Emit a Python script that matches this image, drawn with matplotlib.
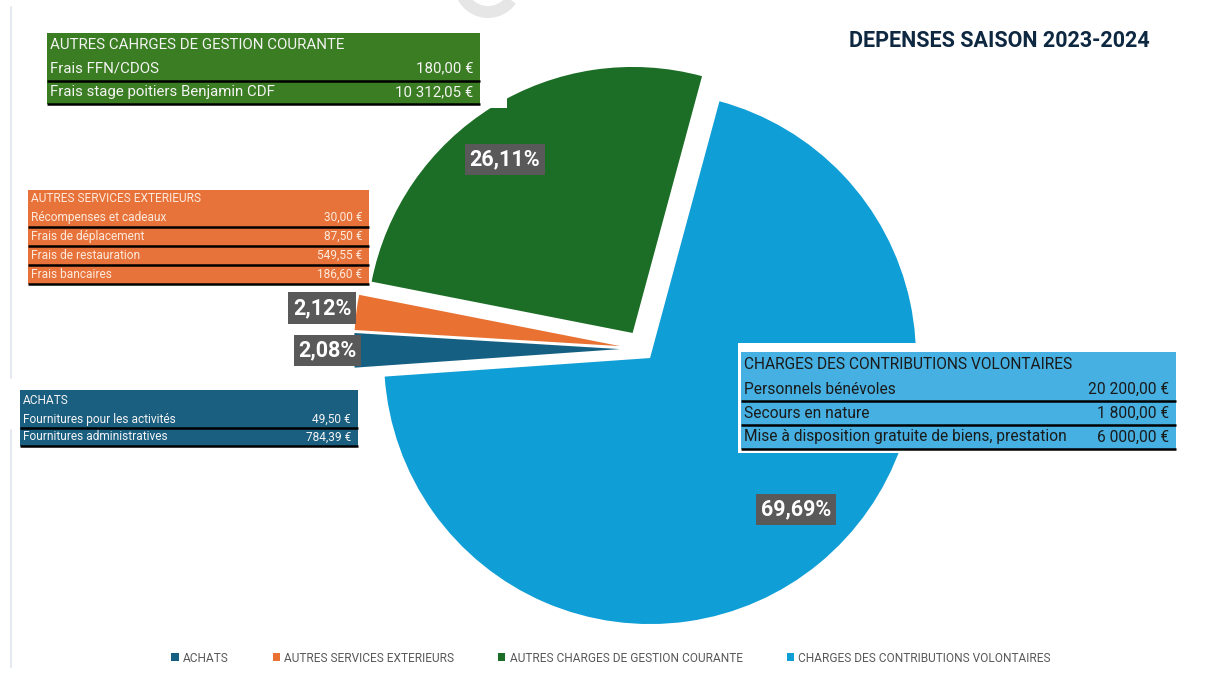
import numpy as np
import matplotlib
matplotlib.use("Agg")
from matplotlib import pyplot as plt, patches as pth

W, H = 1208, 674

categories = ["ACHATS", "AUTRES SERVICES EXTERIEURS",
              "AUTRES CHARGES DE GESTION COURANTE",
              "CHARGES DES CONTRIBUTIONS VOLONTAIRES"]

achats_items = ["Fournitures pour les activités", "Fournitures administratives"]
achats_values = [49.50, 784.39]

services_items = ["Récompenses et cadeaux", "Frais de déplacement",
                  "Frais de restauration", "Frais bancaires"]
services_values = [30.00, 87.50, 549.55, 186.60]

gestion_items = ["Frais FFN/CDOS", "Frais stage poitiers Benjamin CDF"]
gestion_values = [180.00, 10312.05]

contrib_items = ["Personnels bénévoles", "Secours en nature",
                 "Mise à disposition gratuite de biens, prestation"]
contrib_values = [20200.00, 1800.00, 6000.00]

totals = [sum(achats_values), sum(services_values),
          sum(gestion_values), sum(contrib_values)]

pie_colors = ["#156082", "#e97132", "#1c6e26", "#0f9ed5"]
FONT = ["Roboto", "DejaVu Sans"]
R = 266
explode_frac = [0.085, 0.085, 0.071, 0.044]


def euro(v):
    return f"{v:,.2f}".replace(",", " ").replace(".", ",") + " €"


def draw_table(ax, header, items, values, x0, x1, top, head_h, row_h,
               face, fg, size, margin=None):
    # coordinates are given like on the picture (y going down)
    bottom = top + head_h + len(items) * row_h
    if margin is not None:
        l, t, r, b = margin
        ax.add_patch(pth.Rectangle((x0 - l, H - bottom - b), x1 - x0 + l + r,
                                   bottom - top + t + b, facecolor="white",
                                   edgecolor="none", zorder=4))
    ax.add_patch(pth.Rectangle((x0, H - bottom), x1 - x0, bottom - top,
                               facecolor=face, edgecolor="none", zorder=5))
    ax.text(x0 + 3, H - (top + head_h / 2), header, color=fg, fontsize=size,
            family=FONT, va="center", ha="left", zorder=7)
    for i, (name, val) in enumerate(zip(items, values)):
        yc = top + head_h + (i + 0.5) * row_h
        ax.text(x0 + 3, H - yc, name, color=fg, fontsize=size, family=FONT,
                va="center", ha="left", zorder=7)
        ax.text(x1 - 7, H - yc, euro(val), color=fg, fontsize=size,
                family=FONT, va="center", ha="right", zorder=7)
        yl = H - (top + head_h + (i + 1) * row_h)
        ax.plot([x0, x1], [yl, yl], color="black", lw=1.8, zorder=6,
                solid_capstyle="butt")


fig = plt.figure(figsize=(W / 100, H / 100), dpi=100)
ax = fig.add_axes([0, 0, 1, 1])

wedges, _ = ax.pie(totals, colors=pie_colors, startangle=184,
                   counterclock=False, explode=[f * R for f in explode_frac],
                   center=(642.6, H - 349), radius=R,
                   wedgeprops=dict(linewidth=0))
ax.set_xlim(0, W)
ax.set_ylim(0, H)
ax.set_aspect("equal")
ax.axis("off")

# percent labels
grand = sum(totals)
label_dist = [1.10, 1.13, 0.81, 0.79]
label_turn = [0, 0, 4.5, 4.5]
for w, v, d, t in zip(wedges, totals, label_dist, label_turn):
    mid = np.deg2rad((w.theta1 + w.theta2) / 2 + t)
    cx, cy = w.center
    txt = f"{100 * v / grand:.2f}".replace(".", ",") + "%"
    ax.text(cx + d * w.r * np.cos(mid), cy + d * w.r * np.sin(mid), txt,
            color="white", fontsize=15.5, weight="bold", family="Roboto",
            ha="center", va="center", zorder=8,
            bbox=dict(boxstyle="square,pad=0.22", facecolor="#595959",
                      edgecolor="none"))

draw_table(ax, "AUTRES CAHRGES DE GESTION COURANTE", gestion_items,
           gestion_values, 47, 480, 33, 24, 23.5, "#3a7d22", "#f4f4f4", 10.8,
           margin=(6, 5, 27, 4))
draw_table(ax, "AUTRES SERVICES EXTERIEURS", services_items, services_values,
           28, 369, 190, 18, 19, "#e8733a", "#fde9dc", 8.6)
draw_table(ax, "ACHATS", achats_items, achats_values,
           20, 358, 390, 20, 18, "#1a5e80", "#f4f4f4", 8.6)
draw_table(ax, "CHARGES DES CONTRIBUTIONS VOLONTAIRES", contrib_items,
           contrib_values, 741, 1176, 352, 25, 24, "#45b0e1", "#1a1a1a", 11.2,
           margin=(3, 9, 4, 4))

ax.text(999, H - 41, "DEPENSES SAISON 2023-2024", fontsize=15.5,
        weight="bold", family="Roboto", color="#0e2841",
        ha="center", va="center")

# faint frame line on the left and watermark piece at the top
ax.plot([11, 11], [H - 7, H - 378], color="#dfe5ee", lw=1.2)
ax.plot([11, 11], [H - 430, H - 667], color="#dfe5ee", lw=1.2)
ax.add_patch(pth.Wedge((488, H + 16), 34, 200, 325, width=12,
                       facecolor="#e6e6e6", edgecolor="none"))

fig.legend(wedges, categories, loc="center",
           bbox_to_anchor=(611 / W, 1 - 658 / H), ncol=4, frameon=False,
           handlelength=0.6, handleheight=0.6, handletextpad=0.35,
           columnspacing=3.7,
           prop=dict(family=FONT, size=8.6), labelcolor="#595959")

fig.savefig("out.png", dpi=100)
